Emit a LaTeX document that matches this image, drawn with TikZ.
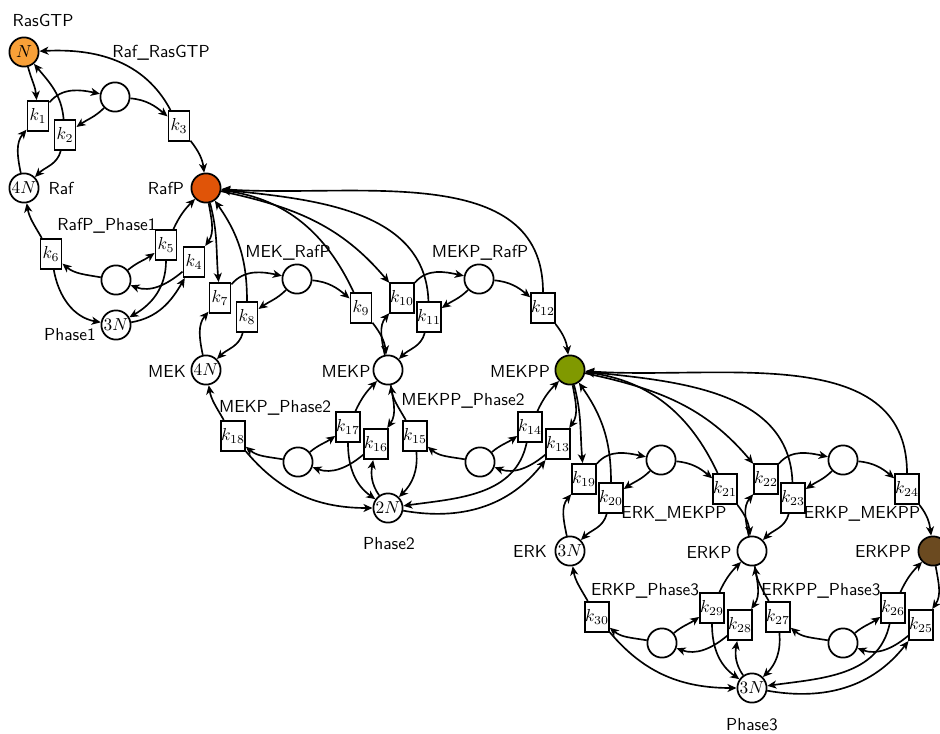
\documentclass[tikz,border=0pt]{standalone}
\usetikzlibrary{arrows.meta}
\definecolor{cRas}{RGB}{248,160,56}
\definecolor{cRafP}{RGB}{224,84,8}
\definecolor{cMEKPP}{RGB}{128,153,0}
\definecolor{cERKPP}{RGB}{107,74,32}
\tikzset{
  place/.style={circle,draw,line width=1pt,minimum size=16.8pt,inner sep=0pt},
  trans/.style={rectangle,draw,line width=1pt,minimum width=12.2pt,minimum height=17.4pt,inner sep=0pt},
  arc/.style={-{Stealth[length=5.2pt,width=4.6pt,inset=1.5pt]},line width=0.95pt},
  lbl/.style={font=\sffamily,inner sep=0pt}
}
% kinase module internal arcs: S ka kb C kc P
\newcommand\kinmod[6]{%
  \draw[arc] (#1) to[out=102,in=230] (#2);
  \draw[arc] (#2) to[out=50,in=168] (#4);
  \draw[arc] (#4) to[out=225,in=35] (#3);
  \draw[arc] (#3) to[out=-105,in=45] (#1);
  \draw[arc] (#4) to[out=-5,in=140] (#5);
  \draw[arc] (#5) to[out=-52,in=97] (#6);
}
% phosphatase module internal arcs: S ka kb C kc P
\newcommand\phosmod[6]{%
  \draw[arc] (#1) to[out=-80,in=55] (#2);
  \draw[arc] (#2) to[out=220,in=-20] (#4);
  \draw[arc] (#4) to[out=40,in=215] (#3);
  \draw[arc] (#3) to[out=65,in=225] (#1);
  \draw[arc] (#4) to[out=170,in=-40] (#5);
  \draw[arc] (#5) to[out=120,in=-80] (#6);
}
\begin{document}
\begin{tikzpicture}[x=0.575pt,y=0.575pt]
\useasboundingbox (0,0) rectangle (940,-733);
\clip (0,0) rectangle (940,-733);

% places
\node[place,fill=cRas] (RasGTP) at (24,-52) {$N$};
\node[place] (Raf) at (24,-188) {$4N$};
\node[place] (C1) at (115,-97) {};
\node[place,fill=cRafP] (RafP) at (206,-188) {};
\node[place] (C1p) at (116,-280) {};
\node[place] (Phase1) at (116,-325) {$3N$};
\node[place] (MEK) at (206,-370) {$4N$};
\node[place] (C2) at (297,-279) {};
\node[place] (MEKP) at (388,-370) {};
\node[place] (C3) at (479,-279) {};
\node[place,fill=cMEKPP] (MEKPP) at (570,-370) {};
\node[place] (C2p) at (298,-462) {};
\node[place] (C3p) at (480,-462) {};
\node[place] (Phase2) at (388,-508) {$2N$};
\node[place] (ERK) at (570,-551) {$3N$};
\node[place] (C4) at (661,-460) {};
\node[place] (ERKP) at (752,-551) {};
\node[place] (C5) at (843,-460) {};
\node[place,fill=cERKPP] (ERKPP) at (933,-551) {};
\node[place] (C4p) at (662,-643) {};
\node[place] (C5p) at (843,-643) {};
\node[place] (Phase3) at (752,-688) {$3N$};

% transitions
\node[trans] (k1) at (38,-116) {$k_{1}$};
\node[trans] (k2) at (65,-135) {$k_{2}$};
\node[trans] (k3) at (179,-126) {$k_{3}$};
\node[trans] (k4) at (194,-262) {$k_{4}$};
\node[trans] (k5) at (166,-245) {$k_{5}$};
\node[trans] (k6) at (51,-254) {$k_{6}$};
\node[trans] (k7) at (220,-298) {$k_{7}$};
\node[trans] (k8) at (247,-317) {$k_{8}$};
\node[trans] (k9) at (361,-308) {$k_{9}$};
\node[trans] (k10) at (402,-298) {$k_{10}$};
\node[trans] (k11) at (429,-317) {$k_{11}$};
\node[trans] (k12) at (543,-308) {$k_{12}$};
\node[trans] (k13) at (558,-444) {$k_{13}$};
\node[trans] (k14) at (530,-427) {$k_{14}$};
\node[trans] (k15) at (415,-436) {$k_{15}$};
\node[trans] (k16) at (376,-444) {$k_{16}$};
\node[trans] (k17) at (348,-427) {$k_{17}$};
\node[trans] (k18) at (233,-436) {$k_{18}$};
\node[trans] (k19) at (584,-479) {$k_{19}$};
\node[trans] (k20) at (611,-498) {$k_{20}$};
\node[trans] (k21) at (725,-489) {$k_{21}$};
\node[trans] (k22) at (766,-479) {$k_{22}$};
\node[trans] (k23) at (793,-498) {$k_{23}$};
\node[trans] (k24) at (907,-489) {$k_{24}$};
\node[trans] (k25) at (921,-625) {$k_{25}$};
\node[trans] (k26) at (893,-608) {$k_{26}$};
\node[trans] (k27) at (778,-617) {$k_{27}$};
\node[trans] (k28) at (740,-625) {$k_{28}$};
\node[trans] (k29) at (712,-608) {$k_{29}$};
\node[trans] (k30) at (597,-617) {$k_{30}$};

% labels
\node[lbl] (lRasGTP) at (43,-20) {RasGTP};
\node[lbl] (lRafRas) at (161,-53) {Raf\_RasGTP};
\node[lbl] (lRaf) at (61,-188) {Raf};
\node[lbl] (lRafP) at (166,-188) {RafP};
\node[lbl] (lRafPPh) at (107,-226) {RafP\_Phase1};
\node[lbl] (lPhase1) at (70,-335) {Phase1};
\node[lbl] (lMEK) at (167,-371) {MEK};
\node[lbl] (lMEKRafP) at (288,-253) {MEK\_RafP};
\node[lbl] (lMEKP) at (346,-371) {MEKP};
\node[lbl] (lMEKPRafP) at (480,-253) {MEKP\_RafP};
\node[lbl] (lMEKPP) at (520,-371) {MEKPP};
\node[lbl] (lMEKPPh) at (275,-408) {MEKP\_Phase2};
\node[lbl] (lMEKPPPh) at (463,-401) {MEKPP\_Phase2};
\node[lbl] (lPhase2) at (389,-544) {Phase2};
\node[lbl] (lERKMEKPP) at (674,-514) {ERK\_MEKPP};
\node[lbl] (lERK) at (530,-551) {ERK};
\node[lbl] (lERKP) at (709,-552) {ERKP};
\node[lbl] (lERKPMEKPP) at (862,-514) {ERKP\_MEKPP};
\node[lbl] (lERKPP) at (883,-551) {ERKPP};
\node[lbl] (lERKPPh) at (645,-591) {ERKP\_Phase3};
\node[lbl] (lERKPPPh) at (821,-591) {ERKPP\_Phase3};
\node[lbl] (lPhase3) at (752,-725) {Phase3};

% kinase modules
\kinmod{Raf}{k1}{k2}{C1}{k3}{RafP}
\kinmod{MEK}{k7}{k8}{C2}{k9}{MEKP}
\kinmod{MEKP}{k10}{k11}{C3}{k12}{MEKPP}
\kinmod{ERK}{k19}{k20}{C4}{k21}{ERKP}
\kinmod{ERKP}{k22}{k23}{C5}{k24}{ERKPP}
% phosphatase modules
\phosmod{RafP}{k4}{k5}{C1p}{k6}{Raf}
\phosmod{MEKP}{k16}{k17}{C2p}{k18}{MEK}
\phosmod{MEKPP}{k13}{k14}{C3p}{k15}{MEKP}
\phosmod{ERKP}{k28}{k29}{C4p}{k30}{ERK}
\phosmod{ERKPP}{k25}{k26}{C5p}{k27}{ERKP}

% enzyme arcs
\draw[arc] (RasGTP) to[out=-75,in=95] (k1);
\draw[arc] (k2) to[out=95,in=-50] (RasGTP);
\draw[arc] (k3) to[out=118,in=3] (RasGTP);

\draw[arc] (RafP) to[out=-75,in=95] (k7);
\draw[arc] (k8) to[out=90,in=-55] (RafP);
\draw[arc] (k9) to[out=115,in=-8] (RafP);
\draw[arc] (RafP) to[out=-12,in=130] (k10);
\draw[arc] (k11) to[out=92,in=-6] (RafP);
\draw[arc] (k12) to[out=90,in=-4] (RafP);

\draw[arc] (MEKPP) to[out=-75,in=95] (k19);
\draw[arc] (k20) to[out=90,in=-55] (MEKPP);
\draw[arc] (k21) to[out=115,in=-8] (MEKPP);
\draw[arc] (MEKPP) to[out=-12,in=130] (k22);
\draw[arc] (k23) to[out=92,in=-6] (MEKPP);
\draw[arc] (k24) to[out=90,in=-4] (MEKPP);

% phosphatase arcs
\draw[arc] (Phase1) to[out=10,in=240] (k4);
\draw[arc] (k5) to[out=-90,in=30] (Phase1);
\draw[arc] (k6) to[out=-80,in=170] (Phase1);

\draw[arc] (Phase2) to[out=125,in=-100] (k16);
\draw[arc] (k17) to[out=-90,in=145] (Phase2);
\draw[arc] (k18) to[out=-50,in=180] (Phase2);
\draw[arc] (Phase2) to[out=-10,in=232] (k13);
\draw[arc] (k14) to[out=-102,in=8] (Phase2);
\draw[arc] (k15) to[out=-85,in=45] (Phase2);

\draw[arc] (Phase3) to[out=125,in=-100] (k28);
\draw[arc] (k29) to[out=-90,in=145] (Phase3);
\draw[arc] (k30) to[out=-50,in=180] (Phase3);
\draw[arc] (Phase3) to[out=-10,in=232] (k25);
\draw[arc] (k26) to[out=-102,in=8] (Phase3);
\draw[arc] (k27) to[out=-85,in=45] (Phase3);
\end{tikzpicture}
\end{document}
